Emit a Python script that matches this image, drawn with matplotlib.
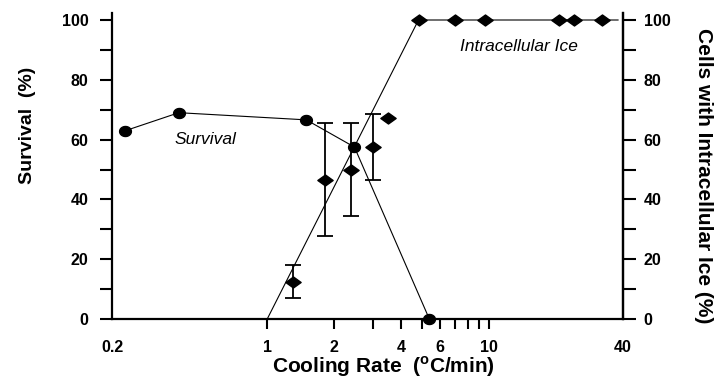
import numpy as np
import matplotlib
matplotlib.use("Agg")
import matplotlib.pyplot as plt
from matplotlib.path import Path
from matplotlib.ticker import FixedLocator, FixedFormatter, NullFormatter

plt.rcParams['font.family'] = ['Liberation Sans', 'DejaVu Sans']
plt.rcParams['mathtext.fontset'] = 'custom'
plt.rcParams['mathtext.rm'] = 'Liberation Sans:bold'
plt.rcParams['mathtext.bf'] = 'Liberation Sans:bold'

# ---- data ----
survival_rate = [0.23, 0.40, 1.5, 2.47, 5.37]
survival_pct = [63, 69, 66.6, 57.5, 0]

ice_line_rate = [1.0, 4.8, 38]
ice_line_pct = [0, 100, 100]

ice_full_rate = [4.8, 7.0, 9.6, 20.5, 24.0, 32.3]
ice_full_pct = [100, 100, 100, 100, 100, 100]

ice_rate = [1.3, 1.82, 2.39, 3.0]
ice_pct = [12.5, 46.6, 50.0, 57.5]
ice_err = [5.5, 18.8, 15.6, 10.9]

ice_extra_rate = [3.5]
ice_extra_pct = [67.3]

x_major = [0.2, 1, 2, 4, 6, 10, 40]
x_major_labels = ['0.2', '1', '2', '4', '6', '10', '40']
x_minor = [3, 5, 7, 8, 9]
y_major = [0, 20, 40, 60, 80, 100]
y_minor = [10, 30, 50, 70, 90]

# ---- markers ----
t = np.linspace(0, 2 * np.pi, 40)
ellipse = Path(np.column_stack([np.cos(t), 0.85 * np.sin(t)]), closed=True)
diamond = Path([(-1, 0), (0, 0.72), (1, 0), (0, -0.72), (-1, 0)], closed=True)

W, H = 715, 383
fig = plt.figure(figsize=(W / 100, H / 100), dpi=100)
ymax = 102.3
px_per_unit = 299 / 100
ax_h = ymax * px_per_unit
ax = fig.add_axes([112 / W, (H - 319) / H, (623 - 112) / W, ax_h / H])
ax.set_xscale('log')
ax.set_xlim(0.2, 40)
ax.set_ylim(0, ymax)

# survival
ax.plot(survival_rate, survival_pct, color='black', lw=0.8, marker=ellipse,
        ms=8.5, mfc='black', mec='black', clip_on=False, zorder=3)
# intracellular ice fit line
ax.plot(ice_line_rate, ice_line_pct, color='black', lw=0.8, clip_on=False, zorder=2)
ax.plot(ice_full_rate, ice_full_pct, ls='none', marker=diamond, ms=11,
        color='black', clip_on=False, zorder=4)
ax.errorbar(ice_rate, ice_pct, yerr=ice_err, fmt='none', ecolor='black',
            elinewidth=1.3, capsize=5.5, capthick=1.3, zorder=3)
ax.plot(ice_rate, ice_pct, ls='none', marker=diamond, ms=11, color='black', zorder=4)
ax.plot(ice_extra_rate, ice_extra_pct, ls='none', marker=diamond, ms=11,
        color='black', zorder=4)

# spines
ax.spines['top'].set_visible(False)
for s in ['left', 'bottom', 'right']:
    ax.spines[s].set_linewidth(1.6)

TICK_FS = 11.5

ax.xaxis.set_major_locator(FixedLocator(x_major))
ax.xaxis.set_major_formatter(FixedFormatter(x_major_labels))
ax.xaxis.set_minor_locator(FixedLocator(x_minor))
ax.xaxis.set_minor_formatter(NullFormatter())
ax.tick_params(axis='x', which='both', direction='out', length=7.5, width=1.5,
               pad=7.5, labelsize=TICK_FS)
for lab in ax.get_xticklabels():
    lab.set_fontweight('bold')
mt = ax.xaxis.get_major_ticks()
mt[0].tick1line.set_visible(False)
mt[-1].tick1line.set_visible(False)

ax.yaxis.set_major_locator(FixedLocator(y_major))
ax.yaxis.set_minor_locator(FixedLocator(y_minor))
ax.tick_params(axis='y', which='both', direction='out', length=9, width=1.5,
               pad=8, labelsize=TICK_FS, right=False)
for lab in ax.get_yticklabels():
    lab.set_fontweight('bold')

ax2 = ax.twinx()
ax2.set_ylim(0, ymax)
for s in ['top', 'left', 'bottom']:
    ax2.spines[s].set_visible(False)
ax2.spines['right'].set_linewidth(1.6)
ax2.yaxis.set_major_locator(FixedLocator(y_major))
ax2.yaxis.set_minor_locator(FixedLocator(y_minor))
ax2.tick_params(axis='y', which='both', direction='out', length=9, width=1.5,
                pad=6, labelsize=TICK_FS)
for lab in ax2.get_yticklabels():
    lab.set_fontweight('bold')

# annotations
ax.text(0.528, 60, 'Survival', style='italic', fontsize=12.5, ha='center', va='center')
ax.text(13.6, 91.2, 'Intracellular Ice', style='italic', fontsize=12.5,
        ha='center', va='center')

# axis labels
fig.text(27 / W, 1 - 125.5 / H, 'Survival  (%)', rotation=90, fontsize=14,
         fontweight='bold', ha='center', va='center')
fig.text(703 / W, 1 - 176 / H, 'Cells with Intracellular Ice (%)', rotation=-90,
         fontsize=15, fontweight='bold', ha='center', va='center')
fig.text(383 / W, 1 - 367 / H, r'Cooling Rate  ($^{\mathrm{o}}$C/min)', fontsize=15,
         fontweight='bold', ha='center', va='center')

fig.savefig('out.png', dpi=100)
